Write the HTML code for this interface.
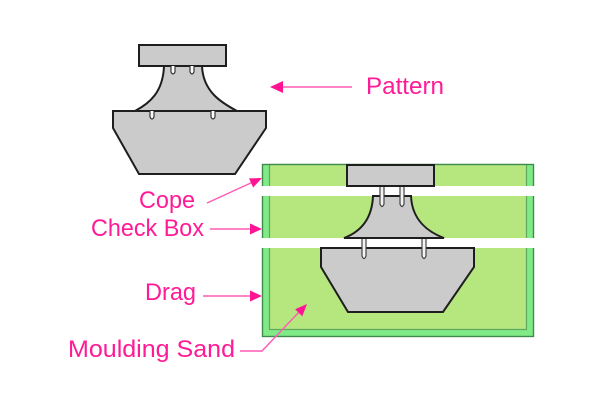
<!DOCTYPE html>
<html><head><meta charset="utf-8"><style>
html,body{margin:0;padding:0;background:#fff;}
svg{display:block;}
text{font-family:"Liberation Sans",sans-serif;font-size:24px;fill:#ff1a96;}
</style></head><body>
<svg width="600" height="400" viewBox="0 0 600 400" xmlns="http://www.w3.org/2000/svg">
<rect x="0" y="0" width="600" height="400" fill="#fff"/>
<!-- Pattern (top-left) -->
<g stroke="#1e1e1e" stroke-width="2" fill="#cbcbcb" stroke-linejoin="miter">
<path d="M164,66 C163,92 150,103 135,111 L237,111 C222,103 203,92 202,66 Z"/>
<rect x="139" y="45" width="87" height="21"/>
<path d="M113,111 L266,111 L266,128 L235,174 L139,174 L113,128 Z"/>
</g>
<g stroke="#333" stroke-width="1.2" fill="#fff">
<path d="M171,66 L171,72 Q173,76 175,72 L175,66"/>
<path d="M190,66 L190,72 Q192,76 194,72 L194,66"/>
<path d="M150,111 L150,117 Q152,121 154,117 L154,111"/>
<path d="M211,111 L211,117 Q213,121 215,117 L215,111"/>
</g>
<!-- Flask -->
<rect x="262.5" y="164.5" width="271" height="172" fill="#80ea86" stroke="#3f8a4a" stroke-width="1.2"/>
<path d="M269.5,164.5 L269.5,329.5 L526.5,329.5 L526.5,164.5 Z" fill="#b6e67e" stroke="#5fa860" stroke-width="1.2"/>
<rect x="262.5" y="164.5" width="271" height="172" fill="none" stroke="#3f8a4a" stroke-width="1.2"/>
<rect x="258" y="186" width="280" height="10" fill="#fff"/>
<rect x="258" y="238" width="280" height="10" fill="#fff"/>
<!-- Mould pieces -->
<g stroke="#1e1e1e" stroke-width="2" fill="#cbcbcb">
<rect x="347" y="165" width="87" height="21"/>
<path d="M373,196 C372,220 360,232 344,238 L444,238 C428,232 412,220 411,196 Z"/>
<path d="M321,248 L474,248 L474,267 L443,312 L348,312 L321,267 Z"/>
</g>
<g stroke="#444" stroke-width="1.2" fill="#f4f4f4">
<path d="M380,187 L380,204 Q382,209 384,204 L384,187"/>
<path d="M400,187 L400,204 Q402,209 404,204 L404,187"/>
<path d="M362,239 L362,256 Q364,261 366,256 L366,239"/>
<path d="M422,239 L422,256 Q424,261 426,256 L426,239"/>
</g>
<!-- Arrows -->
<g stroke="#ff5ab4" stroke-width="1.4" fill="none">
<line x1="352" y1="87" x2="280" y2="87"/>
<line x1="207" y1="203" x2="253" y2="182"/>
<line x1="210" y1="229" x2="252" y2="229"/>
<line x1="203" y1="296" x2="252" y2="296"/>
<polyline points="240,351 262,351 300,311"/>
</g>
<g fill="#ff1493">
<polygon points="270,87 283,81 283,93"/>
<polygon points="262,178 253.2,187.5 249,178.4"/>
<polygon points="262,229 250,223.5 250,234.5"/>
<polygon points="262,296 250,290.5 250,301.5"/>
<polygon points="307,304 302.3,316.2 295.1,309.2"/>
</g>
<!-- Labels -->
<text x="366" y="94" textLength="78" lengthAdjust="spacingAndGlyphs">Pattern</text>
<text x="139" y="208" textLength="56" lengthAdjust="spacingAndGlyphs">Cope</text>
<text x="91" y="236" textLength="113" lengthAdjust="spacingAndGlyphs">Check Box</text>
<text x="145" y="300" textLength="51" lengthAdjust="spacingAndGlyphs">Drag</text>
<text x="68" y="357" textLength="167" lengthAdjust="spacingAndGlyphs">Moulding Sand</text>
</svg>
</body></html>
